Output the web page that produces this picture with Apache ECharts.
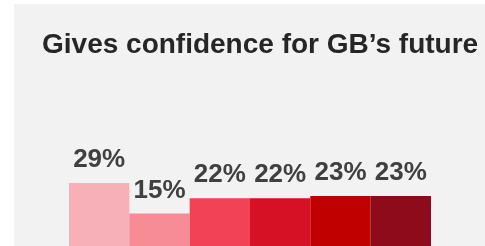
<!DOCTYPE html>
<html>
<head>
<meta charset="utf-8">
<script src="https://cdn.jsdelivr.net/npm/echarts@6/dist/echarts.min.js"></script>
<style>
  html, body { margin: 0; padding: 0; background: #ffffff; }
  #chart { width: 485px; height: 246px; }
</style>
</head>
<body>
<div id="chart"></div>
<script>
// data
const groups = ['Group 1', 'Group 2', 'Group 3', 'Group 4', 'Group 5', 'Group 6'];
const values = [29, 15, 22, 22, 23, 23];
const barColors = ['#F8B0B8', '#F78C96', '#F24255', '#D61125', '#C00000', '#8E0B1B'];

const chart = echarts.init(document.getElementById('chart'), null, { renderer: 'canvas' });

const option = {
  backgroundColor: '#ffffff',
  animation: false,
  graphic: [
    {
      type: 'rect',
      z: -10,
      shape: { x: 14, y: 4, width: 471, height: 242 },
      style: { fill: '#F2F2F2' },
      silent: true
    }
  ],
  title: {
    text: 'Gives confidence for GB\u2019s future',
    left: 37,
    top: 26,
    textStyle: {
      fontFamily: 'Liberation Sans, Arial, sans-serif',
      fontSize: 28,
      fontWeight: 'bold',
      color: '#262626'
    }
  },
  grid: {
    left: 69,
    right: 54,
    top: 29,
    bottom: 0
  },
  xAxis: {
    type: 'category',
    data: groups,
    show: false
  },
  yAxis: {
    type: 'value',
    min: 0,
    max: 100,
    show: false
  },
  series: [
    {
      type: 'bar',
      barCategoryGap: 0,
      data: values.map((v, i) => ({ value: v, itemStyle: { color: barColors[i] } })),
      label: {
        show: true,
        position: 'top',
        distance: 10,
        formatter: '{c}%',
        fontFamily: 'Liberation Sans, Arial, sans-serif',
        fontSize: 26,
        fontWeight: 'bold',
        color: '#404040'
      }
    }
  ]
};

chart.setOption(option);
</script>
</body>
</html>
